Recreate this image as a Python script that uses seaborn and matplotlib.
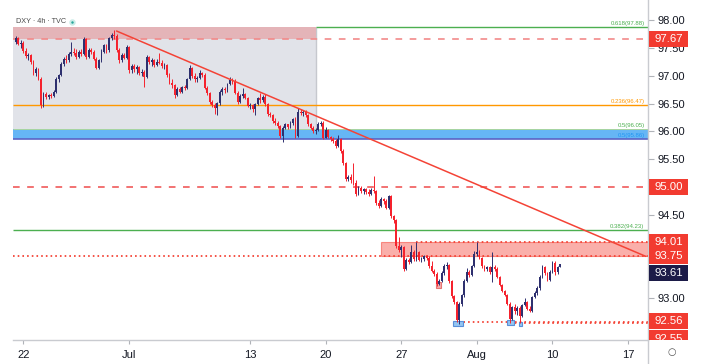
import numpy as np
import pandas as pd
import seaborn as sns
import matplotlib.pyplot as plt
from matplotlib.patches import Rectangle
from matplotlib.transforms import Bbox, TransformedBbox

# DXY 4h candles, bar 0 = first bar of Mon 22 Jun (6 bars per trading day)
first_bar = -3
opens = [
    97.62, 97.68, 97.58, 97.60, 97.45, 97.36, 97.38, 97.25, 97.06, 97.12,
    96.95, 96.48, 96.68, 96.62, 96.66, 96.64, 96.72, 96.95, 97.02, 97.22,
    97.30, 97.28, 97.40, 97.44, 97.42, 97.34, 97.44, 97.40, 97.66, 97.34,
    97.46, 97.44, 97.30, 97.15, 97.28, 97.44, 97.55, 97.46, 97.68, 97.74,
    97.72, 97.47, 97.28, 97.38, 97.32, 97.52, 97.10, 97.18, 97.12, 97.16,
    97.05, 97.08, 96.98, 97.34, 97.26, 97.28, 97.20, 97.26, 97.24, 97.18,
    97.20, 97.02, 96.88, 96.84, 96.66, 96.76, 96.72, 96.80, 96.78, 96.95,
    97.15, 97.00, 96.94, 96.96, 97.05, 97.02, 96.79, 96.69, 96.53, 96.48,
    96.43, 96.51, 96.71, 96.77, 96.74, 96.86, 96.93, 96.90, 96.70, 96.53,
    96.64, 96.68, 96.60, 96.46, 96.48, 96.40, 96.50, 96.60, 96.56, 96.63,
    96.50, 96.31, 96.30, 96.19, 96.16, 96.09, 95.92, 96.07, 96.13, 96.08,
    96.15, 96.22, 95.92, 96.36, 96.34, 96.36, 96.29, 96.13, 96.06, 96.00,
    96.03, 96.14, 96.16, 95.89, 96.02, 95.90, 95.86, 95.83, 95.74, 95.86,
    95.65, 95.43, 95.14, 95.18, 95.12, 95.08, 94.88, 94.99, 94.93, 94.96,
    94.91, 94.88, 94.95, 94.92, 94.72, 94.66, 94.79, 94.74, 94.63, 94.83,
    94.47, 94.40, 93.93, 93.86, 93.92, 93.52, 93.68, 93.65, 93.83, 93.70,
    93.82, 93.69, 93.71, 93.75, 93.72, 93.57, 93.49, 93.44, 93.26, 93.30,
    93.45, 93.58, 93.60, 93.30, 93.03, 92.93, 92.60, 92.89, 93.05, 93.31,
    93.47, 93.42, 93.58, 93.80, 93.83, 93.72, 93.57, 93.52, 93.55, 93.47,
    93.56, 93.52, 93.38, 93.24, 93.12, 93.06, 92.90, 92.63, 92.83, 92.76,
    92.82, 92.68, 92.87, 92.92, 92.80, 92.77, 93.02, 93.09, 93.18, 93.38,
    93.55, 93.45, 93.33, 93.47, 93.63, 93.47, 93.56,
]
highs = [
    97.72, 97.70, 97.64, 97.63, 97.50, 97.42, 97.40, 97.28, 97.16, 97.15,
    96.98, 96.72, 96.72, 96.68, 96.70, 96.75, 96.98, 97.04, 97.25, 97.34,
    97.38, 97.44, 97.62, 97.50, 97.48, 97.46, 97.48, 97.70, 97.68, 97.50,
    97.50, 97.46, 97.34, 97.30, 97.48, 97.58, 97.58, 97.70, 97.78, 97.83,
    97.76, 97.50, 97.42, 97.42, 97.56, 97.54, 97.22, 97.22, 97.20, 97.18,
    97.12, 97.10, 97.38, 97.36, 97.32, 97.30, 97.30, 97.41, 97.28, 97.24,
    97.22, 97.06, 96.94, 96.86, 96.80, 96.80, 96.82, 96.84, 96.97, 97.20,
    97.17, 97.05, 97.00, 97.10, 97.08, 97.06, 96.82, 96.72, 96.56, 96.52,
    96.54, 96.74, 96.80, 96.80, 96.88, 96.99, 96.96, 96.94, 96.73, 96.68,
    96.78, 96.70, 96.62, 96.52, 96.50, 96.52, 96.62, 96.69, 96.66, 96.68,
    96.52, 96.36, 96.32, 96.24, 96.18, 96.12, 96.10, 96.16, 96.14, 96.18,
    96.24, 96.26, 96.42, 96.40, 96.39, 96.38, 96.31, 96.16, 96.10, 96.06,
    96.17, 96.18, 96.18, 96.08, 96.04, 95.92, 95.90, 95.86, 95.94, 95.88,
    95.68, 95.45, 95.22, 95.24, 95.43, 95.12, 95.02, 95.02, 94.98, 94.98,
    94.96, 94.98, 95.19, 94.94, 94.76, 94.82, 94.81, 94.78, 94.86, 94.85,
    94.49, 94.42, 94.10, 93.96, 93.94, 93.72, 93.72, 93.95, 93.86, 94.01,
    93.84, 93.74, 93.78, 93.78, 93.76, 93.66, 93.52, 93.47, 93.34, 93.48,
    93.62, 93.64, 93.62, 93.32, 93.05, 92.95, 92.92, 93.08, 93.34, 93.54,
    93.50, 93.60, 93.84, 94.01, 93.86, 93.74, 93.60, 93.58, 93.57, 93.83,
    93.60, 93.56, 93.40, 93.26, 93.15, 93.08, 92.92, 92.86, 92.90, 92.86,
    92.85, 92.90, 93.00, 92.95, 92.86, 93.04, 93.12, 93.22, 93.42, 93.60,
    93.57, 93.47, 93.50, 93.67, 93.66, 93.58, 93.62,
]
lows = [
    97.58, 97.55, 97.50, 97.42, 97.32, 97.28, 97.22, 97.02, 97.00, 96.92,
    96.42, 96.45, 96.58, 96.58, 96.60, 96.62, 96.70, 96.90, 97.00, 97.18,
    97.24, 97.26, 97.36, 97.38, 97.30, 97.32, 97.36, 97.38, 97.30, 97.32,
    97.40, 97.28, 97.12, 97.12, 97.26, 97.42, 97.42, 97.44, 97.64, 97.66,
    97.44, 97.24, 97.26, 97.30, 97.30, 97.06, 97.06, 97.08, 97.04, 97.02,
    97.00, 96.81, 96.96, 97.22, 97.18, 97.16, 97.18, 97.22, 97.14, 97.12,
    96.98, 96.85, 96.78, 96.60, 96.64, 96.70, 96.70, 96.74, 96.76, 96.93,
    96.96, 96.90, 96.90, 96.94, 96.98, 96.76, 96.66, 96.50, 96.44, 96.31,
    96.30, 96.48, 96.66, 96.70, 96.72, 96.84, 96.86, 96.68, 96.50, 96.52,
    96.60, 96.58, 96.44, 96.40, 96.36, 96.30, 96.48, 96.52, 96.54, 96.46,
    96.28, 96.26, 96.16, 96.12, 96.06, 95.88, 95.81, 96.04, 96.04, 96.06,
    96.12, 95.88, 95.90, 96.30, 96.28, 96.26, 96.10, 96.04, 95.98, 95.96,
    96.00, 96.10, 95.86, 95.88, 95.88, 95.82, 95.80, 95.70, 95.72, 95.62,
    95.40, 95.10, 95.10, 95.08, 95.04, 94.84, 94.85, 94.90, 94.88, 94.88,
    94.84, 94.86, 94.90, 94.68, 94.62, 94.64, 94.70, 94.60, 94.61, 94.44,
    94.36, 93.90, 93.82, 93.74, 93.48, 93.50, 93.62, 93.63, 93.66, 93.66,
    93.66, 93.64, 93.66, 93.68, 93.54, 93.46, 93.40, 93.22, 93.24, 93.28,
    93.42, 93.52, 93.27, 93.00, 92.90, 92.56, 92.54, 92.86, 93.02, 93.28,
    93.38, 93.40, 93.55, 93.76, 93.70, 93.54, 93.48, 93.48, 93.44, 93.29,
    93.48, 93.36, 93.22, 93.10, 93.04, 92.88, 92.55, 92.60, 92.72, 92.70,
    92.55, 92.66, 92.85, 92.78, 92.74, 92.75, 93.00, 93.06, 93.15, 93.36,
    93.42, 93.30, 93.30, 93.45, 93.41, 93.44, 93.55,
]
closes = [
    97.68, 97.58, 97.60, 97.45, 97.36, 97.38, 97.25, 97.06, 97.12, 96.95,
    96.48, 96.68, 96.62, 96.66, 96.64, 96.72, 96.95, 97.02, 97.22, 97.30,
    97.28, 97.40, 97.44, 97.42, 97.34, 97.44, 97.40, 97.66, 97.34, 97.46,
    97.44, 97.30, 97.15, 97.28, 97.44, 97.55, 97.46, 97.68, 97.74, 97.72,
    97.47, 97.28, 97.38, 97.32, 97.52, 97.10, 97.18, 97.12, 97.16, 97.05,
    97.08, 96.98, 97.34, 97.26, 97.28, 97.20, 97.26, 97.24, 97.18, 97.20,
    97.02, 96.88, 96.84, 96.66, 96.76, 96.72, 96.80, 96.78, 96.95, 97.15,
    97.00, 96.94, 96.96, 97.05, 97.02, 96.79, 96.69, 96.53, 96.48, 96.43,
    96.51, 96.71, 96.77, 96.74, 96.86, 96.93, 96.90, 96.70, 96.53, 96.64,
    96.68, 96.60, 96.46, 96.48, 96.40, 96.50, 96.60, 96.56, 96.63, 96.50,
    96.31, 96.30, 96.19, 96.16, 96.09, 95.92, 96.07, 96.13, 96.08, 96.15,
    96.22, 95.92, 96.36, 96.34, 96.36, 96.29, 96.13, 96.06, 96.00, 96.03,
    96.14, 96.16, 95.89, 96.02, 95.90, 95.86, 95.83, 95.74, 95.86, 95.65,
    95.43, 95.14, 95.18, 95.12, 95.08, 94.88, 94.99, 94.93, 94.96, 94.91,
    94.88, 94.95, 94.92, 94.72, 94.66, 94.79, 94.74, 94.63, 94.83, 94.47,
    94.40, 93.93, 93.86, 93.92, 93.52, 93.68, 93.65, 93.83, 93.70, 93.82,
    93.69, 93.71, 93.75, 93.72, 93.57, 93.49, 93.44, 93.26, 93.30, 93.45,
    93.58, 93.60, 93.30, 93.03, 92.93, 92.60, 92.89, 93.05, 93.31, 93.47,
    93.42, 93.58, 93.80, 93.83, 93.72, 93.57, 93.52, 93.55, 93.47, 93.56,
    93.52, 93.38, 93.24, 93.12, 93.06, 92.90, 92.63, 92.83, 92.76, 92.82,
    92.68, 92.87, 92.92, 92.80, 92.77, 93.02, 93.09, 93.18, 93.38, 93.55,
    93.45, 93.33, 93.47, 93.63, 93.47, 93.56, 93.61,
]

date_ticks = [0, 42, 90, 120, 150, 180, 210, 240]
date_labels = ['22', 'Jul', '13', '20', '27', 'Aug', '10', '17']
# scale labels that stay visible (the others sit under price tags)
price_ticks = [93.0, 94.5, 95.5, 96.0, 96.5, 97.0, 97.5, 98.0]

# fibonacci retracement levels
fib_levels = [97.88, 96.47, 96.05, 95.86, 94.23]
fib_names = ['0.618(97.88)', '0.236(96.47)', '0.5(96.05)', '0.5(95.86)', '0.382(94.23)']
fib_colors = ['#4caf50', '#ff9800', '#4caf50', '#2196f3', '#4caf50']

# drawn zones / levels
range_end_bar = 116
top_zone = (97.67, 97.88)
mid_zone = (95.86, 96.05)
res_zone = (93.75, 94.01)
res_zone_start = 142
res_top_start = 156
lows_levels = [92.56, 92.55]
lows_start = [171, 193]
trend_bars = [37, 247]
trend_prices = [97.81, 93.75]

# price tags on right scale
tag_values = [97.67, 95.00, 94.01, 93.75, 93.61, 92.56, 92.55]
tag_colors = ['#f23b30', '#f23b30', '#f23b30', '#f23b30', '#1c1b48', '#f23b30', '#f23b30']
tag_nudge = [0, 0, 0, 0, -0.165, 0.025, -0.28]

UP = '#2e306f'
DOWN = '#f5222d'
RED = '#f44336'

sns.set_theme(style='white')
plt.rcParams['font.family'] = ['Liberation Sans', 'DejaVu Sans']

fig = plt.figure(figsize=(7.03, 3.64), dpi=100)
ax = fig.add_axes([13 / 703, 24 / 364, 635 / 703, 340 / 364])
xmin, xmax = -4.1, 247.9
ax.set_xlim(xmin, xmax)
ax.set_ylim(92.243, 98.369)

df = pd.DataFrame({'open': opens, 'high': highs, 'low': lows, 'close': closes})
df['bar'] = np.arange(first_bar, first_bar + len(df))
df['up'] = df['close'] >= df['open']
cols = np.where(df['up'], UP, DOWN)

# background zones
ax.add_patch(Rectangle((xmin, mid_zone[1]), range_end_bar - xmin, top_zone[1] - mid_zone[1],
                       facecolor='#e1e3e9', edgecolor='none', zorder=0))
ax.vlines(range_end_bar, mid_zone[1], top_zone[1], color='#c6c8ce', lw=1, zorder=0.5)
ax.add_patch(Rectangle((xmin, top_zone[0]), range_end_bar - xmin, top_zone[1] - top_zone[0],
                       facecolor='#e4b4b8', edgecolor='none', zorder=0.6))
ax.add_patch(Rectangle((xmin, mid_zone[0]), xmax - xmin, mid_zone[1] - mid_zone[0],
                       facecolor='#66b6f5', edgecolor='none', zorder=1))
ax.hlines(mid_zone[0], xmin, xmax, color='#5c63c4', lw=1.2, zorder=1.2)
ax.hlines(mid_zone[1], xmin, xmax, color='#a9d5a0', lw=0.7, zorder=1.2)
ax.add_patch(Rectangle((res_zone_start, res_zone[0]), xmax - res_zone_start, res_zone[1] - res_zone[0],
                       facecolor=(0.96, 0.26, 0.21, 0.42), edgecolor=(0.96, 0.26, 0.21, 0.55),
                       lw=0.8, zorder=1))

# horizontal levels
ax.hlines(fib_levels[0], range_end_bar, xmax, color=fib_colors[0], lw=1, zorder=1.5)
ax.hlines(fib_levels[1], xmin, xmax, color=fib_colors[1], lw=1, zorder=1.5)
ax.hlines(fib_levels[4], xmin, xmax, color=fib_colors[4], lw=1, zorder=1.5)
ax.hlines(top_zone[0], xmin, xmax, color='#f28a8a', lw=1.2, linestyles=(0, (4, 4.5)), zorder=1.5)
ax.hlines(95.00, xmin, xmax, color='#f05a5a', lw=1.2, linestyles=(0, (4, 4.5)), zorder=1.5)
ax.hlines(res_zone[0], xmin, xmax, color=RED, lw=1.3, linestyles=(0, (0.9, 1.7)), zorder=1.5)
ax.hlines(res_zone[1], res_top_start, xmax, color=RED, lw=1.3, linestyles=(0, (0.9, 1.7)), zorder=1.5)
for lv, st in zip(lows_levels, lows_start):
    ax.hlines(lv, st, xmax, color=RED, lw=1.3, linestyles=(0, (0.9, 1.7)), zorder=1.5)

for lv, name, c in zip(fib_levels, fib_names, fib_colors):
    ax.text(246.5, lv + 0.02, name, color=c, fontsize=4.3, ha='right', va='bottom', zorder=3)

# small highlight boxes at the swing lows
marks = [(170.6, 174.6, 92.50, 92.59, '#93c5f2', '#5b8fd8'),
         (191.8, 194.6, 92.51, 92.60, '#93c5f2', '#5b8fd8'),
         (196.6, 197.9, 92.49, 92.57, '#93c5f2', '#5b8fd8'),
         (163.8, 165.8, 93.18, 93.28, '#f3a9a9', '#e57373')]
for x0, x1, y0, y1, fc, ec in marks:
    ax.add_patch(Rectangle((x0, y0), x1 - x0, y1 - y0, facecolor=fc, edgecolor=ec, lw=0.8, zorder=4))

# candles
ax.vlines(df['bar'], df['low'], df['high'], colors=cols, lw=0.7, zorder=5)
body = (df['close'] - df['open']).abs().clip(lower=0.012)
ax.bar(df['bar'], body, bottom=df[['open', 'close']].min(axis=1), width=0.72,
       color=cols, linewidth=0, zorder=6)

# trend line
sns.lineplot(x=trend_bars, y=trend_prices, ax=ax, color=RED, lw=1.1, zorder=7)

# axes styling
for s in ['left', 'top']:
    ax.spines[s].set_visible(False)
for s in ['right', 'bottom']:
    ax.spines[s].set_color('#c9cbd0')
    ax.spines[s].set_linewidth(1)
ax.yaxis.tick_right()
ax.set_yticks(price_ticks)
ax.set_yticklabels([f'{v:.2f}' for v in price_ticks])
ax.set_xticks(date_ticks)
ax.set_xticklabels(date_labels)
ax.tick_params(axis='y', which='both', right=True, length=4, pad=3, width=0.8,
               color='#b0b3b8', labelsize=8, labelcolor='#131722')
ax.tick_params(axis='x', which='both', bottom=True, length=3, pad=4, width=0.8,
               color='#b0b3b8', labelsize=8, labelcolor='#131722')
ax.grid(False)

# price tags (clipped to the scale column so the lowest one is cut at the bottom)
trans = ax.get_yaxis_transform()
clip = TransformedBbox(Bbox([[1.0, 0.0], [1.2, 1.0]]), ax.transAxes)
for v, c, dn in zip(tag_values, tag_colors, tag_nudge):
    yc = v + dn
    r = Rectangle((1.0016, yc - 0.145), 0.0614, 0.29, transform=trans, facecolor=c,
                  edgecolor='none', zorder=20)
    ax.add_patch(r)
    r.set_clip_path(None)
    r.set_clip_box(clip)
    r.set_clip_on(True)
    t = ax.text(1.0323, yc, f'{v:.2f}', transform=trans, color='white', fontsize=8.2,
                ha='center', va='center', zorder=21)
    t.set_clip_path(None)
    t.set_clip_box(clip)
    t.set_clip_on(True)

# header
ax.text(0.004, 0.936, 'DXY · 4h · TVC', transform=ax.transAxes, fontsize=5.2,
        color='#4a4a4a', va='center', ha='left')
ax.plot([0.0929], [0.935], 'o', transform=ax.transAxes, ms=3.2, color='#26a69a',
        mec='#c9ece7', mew=1.4, clip_on=False)

fig.add_artist(plt.Line2D([648 / 703, 648 / 703], [0, 24 / 364], color='#c9cbd0', lw=1))
fig.text(672 / 703, 12 / 364, '○', fontsize=7, color='#555', ha='center', va='center',
         family='DejaVu Sans')

fig.savefig('out.png', dpi=100, facecolor='white')
